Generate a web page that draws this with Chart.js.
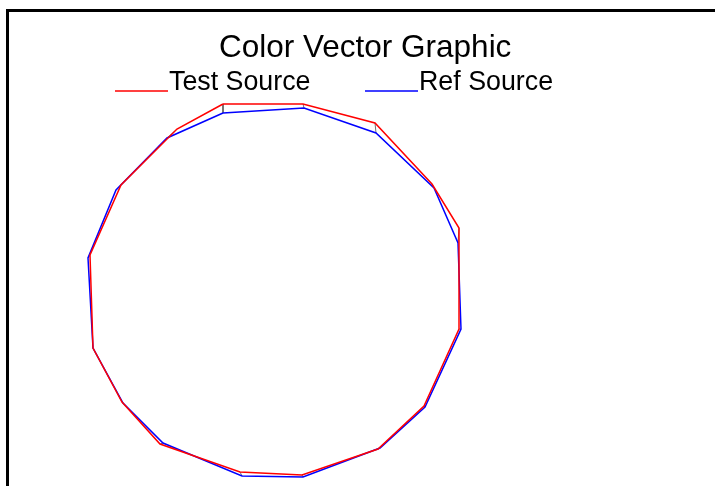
<!DOCTYPE html>
<html>
<head>
<meta charset="utf-8">
<title>Color Vector Graphic</title>
<script src="https://cdn.jsdelivr.net/npm/chart.js@4.4.0/dist/chart.umd.min.js"></script>
<style>
  html, body { margin: 0; padding: 0; background: #fff; overflow: hidden; }
  canvas { display: block; }
</style>
</head>
<body>
<canvas id="vectorChart" width="715" height="486"></canvas>
<script>
// Données (16 sommets, sens horaire depuis le haut gauche)
var seriesNames = ['Test Source', 'Ref Source'];
var testX = [-26, 14, 50, 78.5, 92, 92, 74.5, 51.5, 13.5, -17.5, -57.5, -76.5, -91, -92.5, -77, -49];
var testY = [93, 93, 83.5, 53, 31, -19.5, -58, -79.5, -92.5, -91, -77, -56, -29, 17.5, 52.5, 80.5];
var refX = [-26, 14.5, 50.5, 79.5, 91.5, 93, 75, 52.5, 14, -16.5, -56, -76, -91, -93.5, -79.5, -54];
var refY = [88.5, 91, 78.5, 51, 23.5, -19.5, -58.5, -79, -93.5, -93, -76.5, -56.5, -29, 16, 50, 76];

// Fonction pour transformer deux listes en points fermés (polygone)
function toPoints(xs, ys) {
  var pts = [];
  for (var i = 0; i < xs.length; i++) {
    pts.push({ x: xs[i], y: ys[i] });
  }
  pts.push({ x: xs[0], y: ys[0] });
  return pts;
}

var datasets = [
  {
    label: seriesNames[0],
    data: toPoints(testX, testY),
    borderColor: '#ff0000',
    borderWidth: 1.5,
    showLine: true,
    pointRadius: 0,
    tension: 0
  },
  {
    label: seriesNames[1],
    data: toPoints(refX, refY),
    borderColor: '#0000ff',
    borderWidth: 1.5,
    showLine: true,
    pointRadius: 0,
    tension: 0
  }
];

// Petits segments qui relient chaque sommet test à son sommet ref
for (var i = 0; i < testX.length; i++) {
  datasets.push({
    label: 'link' + i,
    data: [{ x: testX[i], y: testY[i] }, { x: refX[i], y: refY[i] }],
    borderColor: 'rgba(80,80,80,0.8)',
    borderWidth: 1,
    showLine: true,
    pointRadius: 0
  });
}

// Cadre, titre et légende dessinés à la main
var framePlugin = {
  id: 'framePlugin',
  beforeDraw: function (chart) {
    var ctx = chart.ctx;
    ctx.save();
    ctx.fillStyle = '#ffffff';
    ctx.fillRect(0, 0, chart.width, chart.height);
    ctx.lineWidth = 3;
    ctx.strokeStyle = '#000000';
    ctx.strokeRect(7.5, 10.5, 800, 600);
    ctx.restore();
  },
  afterDraw: function (chart) {
    var ctx = chart.ctx;
    ctx.save();
    ctx.fillStyle = '#000000';
    ctx.textBaseline = 'alphabetic';
    ctx.textAlign = 'left';
    ctx.font = '31.5px "Liberation Sans", Arial, sans-serif';
    ctx.fillText('Color Vector Graphic', 219, 56.5);

    var items = [
      { color: '#ff0000', x: 115, text: seriesNames[0] },
      { color: '#0000ff', x: 365, text: seriesNames[1] }
    ];
    ctx.font = '26.8px "Liberation Sans", Arial, sans-serif';
    items.forEach(function (it) {
      ctx.strokeStyle = it.color;
      ctx.lineWidth = 1.5;
      ctx.beginPath();
      ctx.moveTo(it.x, 91);
      ctx.lineTo(it.x + 53, 91);
      ctx.stroke();
      ctx.fillStyle = '#000000';
      ctx.fillText(it.text, it.x + 54, 90);
    });
    ctx.restore();
  }
};

var chart = new Chart(document.getElementById('vectorChart').getContext('2d'), {
  type: 'scatter',
  data: { datasets: datasets },
  options: {
    responsive: false,
    animation: false,
    layout: { padding: { left: 75, right: 240, top: 90, bottom: 0 } },
    scales: {
      x: { type: 'linear', min: -100, max: 100, display: false },
      y: { type: 'linear', min: -98, max: 100, display: false }
    },
    plugins: {
      legend: { display: false },
      title: { display: false },
      tooltip: { enabled: false }
    }
  },
  plugins: [framePlugin]
});
</script>
</body>
</html>
